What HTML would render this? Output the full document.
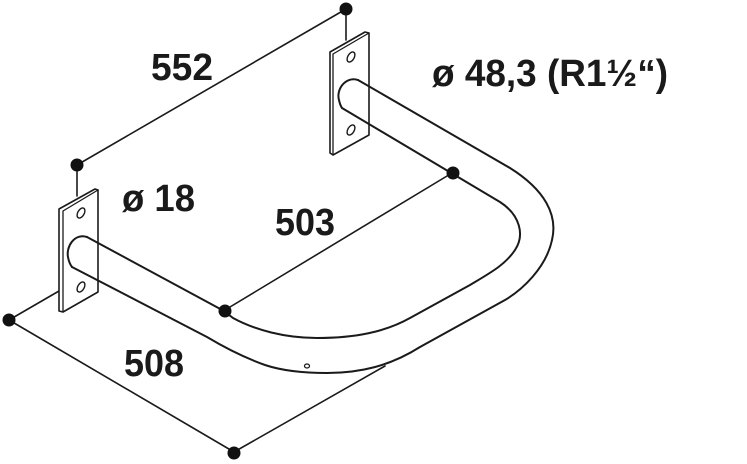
<!DOCTYPE html>
<html><head><meta charset="utf-8"><style>html,body{margin:0;padding:0;background:#fff}svg{display:block}</style></head>
<body>
<svg width="747" height="464" viewBox="0 0 747 464" xmlns="http://www.w3.org/2000/svg">
<g fill="none" stroke="#1a1a1a" stroke-width="2" stroke-linejoin="round" stroke-linecap="round">
<line x1="346" y1="9" x2="77" y2="165" stroke-width="1.6"/>
<line x1="346" y1="9" x2="346" y2="40" stroke-width="1.6"/>
<line x1="77" y1="165" x2="77" y2="196" stroke-width="1.6"/>
<line x1="452" y1="173" x2="225" y2="310" stroke-width="1.6"/>
<line x1="9" y1="320" x2="59" y2="291" stroke-width="1.6"/>
<line x1="9" y1="320" x2="234" y2="452" stroke-width="1.6"/>
<line x1="234" y1="452" x2="385" y2="366" stroke-width="1.6"/>
<path d="M330,52 L365,32 L369,33 L369,135 L333,155 L330,153 Z" fill="#fff" stroke-width="1.6"/>
<path d="M333,54 L369,33 M333,54 L333,155" stroke-width="1.3"/>
<ellipse cx="351" cy="57" rx="3.2" ry="5.5" transform="rotate(30 351 57)" stroke-width="1.4"/>
<ellipse cx="351" cy="130" rx="3.2" ry="5.5" transform="rotate(30 351 130)" stroke-width="1.4"/>
<path d="M59,209 L95,189 L98,190 L98,292 L63,312 L59,311 Z" fill="#fff" stroke-width="1.6"/>
<path d="M63,211 L98,190 M63,211 L63,312" stroke-width="1.3"/>
<ellipse cx="81" cy="213" rx="3.2" ry="5.5" transform="rotate(30 81 213)" stroke-width="1.4"/>
<ellipse cx="81" cy="287" rx="3.2" ry="5.5" transform="rotate(30 81 287)" stroke-width="1.4"/>
<path d="M358,80 L510,168 C545,190 558,215 552,240 C546,268 522,290 505,300 L420,347 C390,366 360,373 327,373 C300,373 280,370 265,365 C240,356 222,346 207,337 L72,267" fill="none"/>
<path d="M342,108 L500,202 C520,215 525,235 515,250 C505,265 490,273 470,285 L410,318 C385,332 355,338 317,338 C285,338 255,330 233,318 L224,311 L87,237"/>
<path d="M358,80 C345,76 336,90 339,100 C340,105 342,108 342,108"/>
<path d="M87,237 C74,233 66,247 68,257 C69,263 72,267 72,267"/>
<ellipse cx="307" cy="366" rx="2.5" ry="2" stroke-width="1.3"/>
</g>
<g fill="#111">
<circle cx="346" cy="9" r="6.5"/>
<circle cx="77" cy="165" r="6.5"/>
<circle cx="453" cy="173" r="6.5"/>
<circle cx="225" cy="311" r="6.5"/>
<circle cx="9" cy="320" r="6.5"/>
<circle cx="234" cy="453" r="6.5"/>
</g>
<g font-family="'Liberation Sans', sans-serif" font-weight="bold" fill="#1a1a1a" font-size="38">
<text x="151" y="80" textLength="62" lengthAdjust="spacingAndGlyphs">552</text>
<text x="432" y="86" textLength="236" lengthAdjust="spacingAndGlyphs">ø 48,3 (R1½“)</text>
<text x="122" y="211" textLength="73" lengthAdjust="spacingAndGlyphs">ø 18</text>
<text x="275" y="235" textLength="60" lengthAdjust="spacingAndGlyphs">503</text>
<text x="124" y="376" textLength="60" lengthAdjust="spacingAndGlyphs">508</text>
</g>
</svg>
</body></html>
